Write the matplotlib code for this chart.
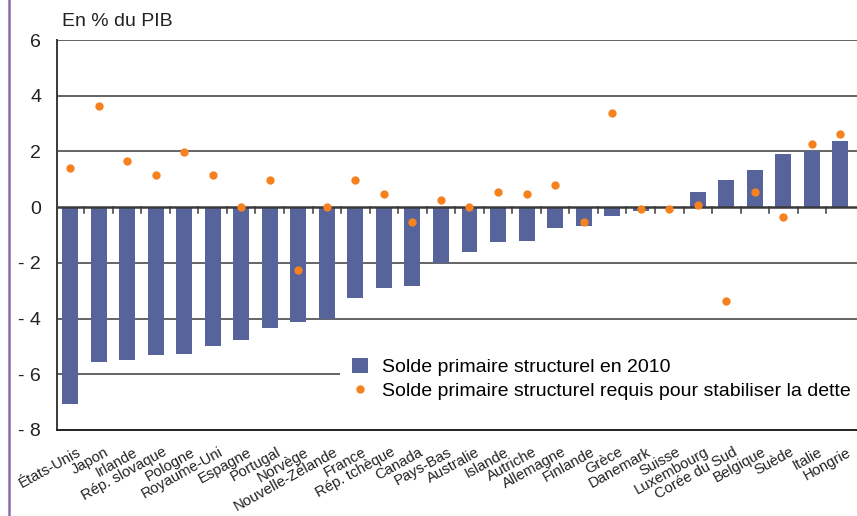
import matplotlib
matplotlib.use("Agg")
import matplotlib.pyplot as plt
from matplotlib.patches import Patch
from matplotlib.lines import Line2D
from matplotlib import font_manager

countries = ["États-Unis", "Japon", "Irlande", "Rép. slovaque", "Pologne", "Royaume-Uni",
             "Espagne", "Portugal", "Norvège", "Nouvelle-Zélande", "France", "Rép. tchèque",
             "Canada", "Pays-Bas", "Australie", "Islande", "Autriche", "Allemagne", "Finlande",
             "Grèce", "Danemark", "Suisse", "Luxembourg", "Corée du Sud", "Belgique", "Suède",
             "Italie", "Hongrie"]
solde_2010 = [-7.05, -5.55, -5.48, -5.30, -5.26, -4.98, -4.76, -4.33, -4.12, -4.01, -3.25,
              -2.92, -2.82, -2.02, -1.60, -1.24, -1.20, -0.76, -0.66, -0.30, -0.15, -0.03,
              0.54, 0.97, 1.33, 1.90, 2.00, 2.37]
solde_requis = [1.39, 3.64, 1.66, 1.14, 1.99, 1.17, 0.01, 0.97, -2.27, 0.01, 0.99, 0.47,
                -0.55, 0.24, 0.01, 0.55, 0.47, 0.79, -0.55, 3.39, -0.06, -0.06, 0.08,
                -3.37, 0.55, -0.37, 2.27, 2.63]
yticks = [6, 4, 2, 0, -2, -4, -6, -8]
ytick_labels = ["6", "4", "2", "0", "- 2", "- 4", "- 6", "- 8"]

names = {f.name for f in font_manager.fontManager.ttflist}
narrow = "Liberation Sans Narrow" if "Liberation Sans Narrow" in names else "Liberation Sans"
plt.rcParams["font.family"] = ["Liberation Sans", "DejaVu Sans"]

bar_color = "#56649B"
dot_color = "#F5821F"

fig = plt.figure(figsize=(8.57, 5.16), dpi=100)
ax = fig.add_axes([57 / 857, 1 - 430 / 516, 1 - 57 / 857 + 0.001, (430 - 40) / 516])

x = list(range(len(countries)))
ax.bar(x, solde_2010, width=0.56, color=bar_color, zorder=2)
ax.scatter(x, solde_requis, s=36, color=dot_color, zorder=4, linewidths=0)

ax.set_xlim(-0.456, 27.61)
ax.set_ylim(-8, 6)
for yv in [6, 4, 2, -2, -4, -6]:
    ax.axhline(yv, color="#3a3a3a", lw=1.1, zorder=1)
ax.axhline(0, color="#3a3a3a", lw=1.8, zorder=3)

ax.set_yticks(yticks)
ax.set_yticklabels(ytick_labels, fontsize=14, color="#222222")
ax.tick_params(axis="y", length=0, pad=11.5)

ax.set_xticks([])
for i in range(len(countries) - 1):
    ax.plot([i + 0.5, i + 0.5], [0, -0.2], color="#3a3a3a", lw=1.1, zorder=3)

for s in ["top", "right"]:
    ax.spines[s].set_visible(False)
ax.spines["left"].set_color("#3a3a3a")
ax.spines["left"].set_linewidth(1.4)
ax.spines["bottom"].set_color("#222222")
ax.spines["bottom"].set_linewidth(1.4)

for i, name in enumerate(countries):
    ax.annotate(name, xy=(i + 0.22, -8), xycoords="data", xytext=(0, -15),
                textcoords="offset pixels", ha="right", va="top", rotation=29,
                rotation_mode="anchor", fontsize=10.7, family=[narrow, "DejaVu Sans"],
                color="#222222")

fig.text(62 / 857, 1 - 22 / 516, "En % du PIB", fontsize=14, va="center", ha="left",
         color="#222222")

handles = [Patch(facecolor=bar_color, edgecolor="none"),
           Line2D([], [], marker="o", color=dot_color, lw=0, markersize=5)]
leg = ax.legend(handles, ["Solde primaire structurel en 2010",
                          "Solde primaire structurel requis pour stabiliser la dette"],
                loc="upper left", bbox_to_anchor=(340 / 857, 1 - 346 / 516),
                bbox_transform=fig.transFigure, frameon=True, fancybox=False,
                fontsize=14, handlelength=0.82, handleheight=0.82, handletextpad=0.72,
                borderpad=0.6, labelspacing=0.3, borderaxespad=0)
leg.get_frame().set_facecolor("white")
leg.get_frame().set_edgecolor("none")
leg.get_frame().set_alpha(1)
leg.set_zorder(5)

fig.add_artist(Line2D([9 / 857, 9 / 857], [0, 1], color="#8E6BAF", lw=1.8,
                      transform=fig.transFigure))

fig.savefig("out.png", dpi=100)
